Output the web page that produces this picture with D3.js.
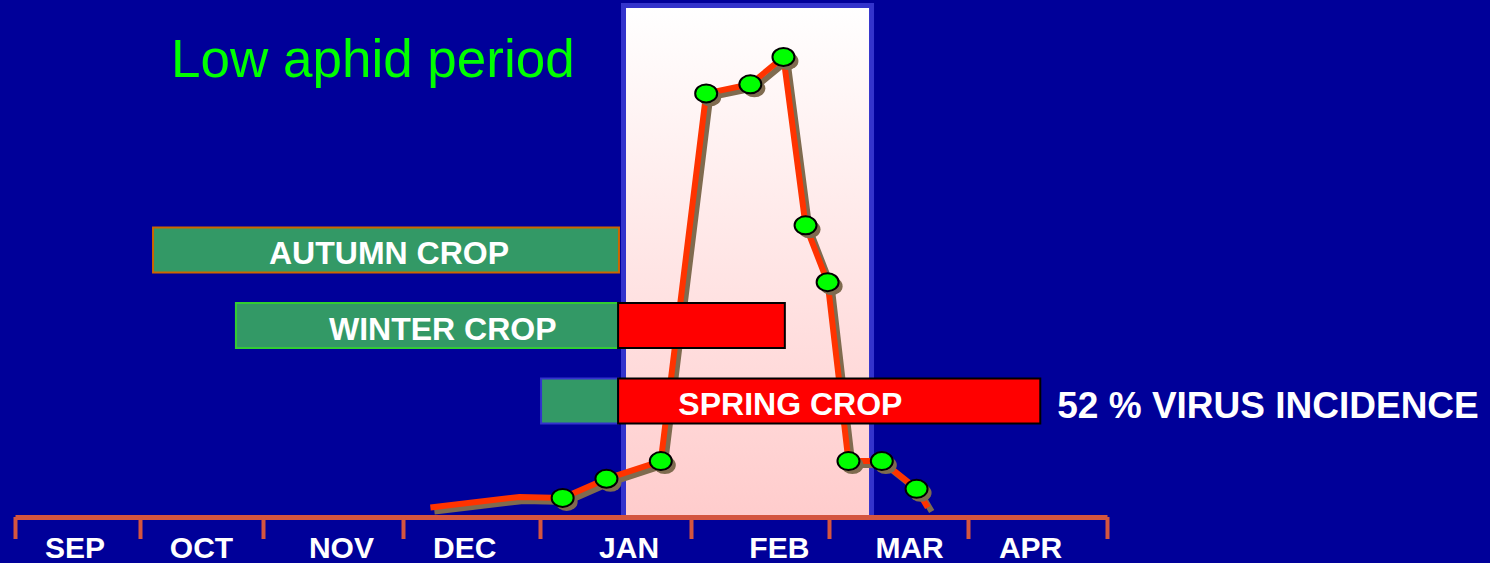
<!DOCTYPE html>
<html>
<head>
<meta charset="utf-8">
<script src="https://cdn.jsdelivr.net/npm/d3@7"></script>
<style>
  body { margin: 0; background: #000099; }
  svg { display: block; }
  text { font-family: "Liberation Sans", Arial, sans-serif; }
</style>
</head>
<body>
<div id="chart"></div>
<script>
// months on the axis (boundaries at 0..8, 0 = start of Sep)
var months = ['SEP', 'OCT', 'NOV', 'DEC', 'JAN', 'FEB', 'MAR', 'APR']
// where each month label sits, in month units
var monthLabelPos = [0.48, 1.5, 2.56, 3.45, 4.59, 5.64, 6.58, 7.45]

// aphid catches (relative units), time in month units
var aphidTime = [3.20, 3.85, 4.15, 4.44, 4.80, 5.11, 5.43, 5.67, 5.83, 5.99, 6.14, 6.38, 6.63, 6.71]
var aphidCount = [1, 3.3, 3.1, 7.3, 11.2, 92, 94, 100, 63, 50.5, 11.2, 11.2, 5.1, 1]
var sampled = [false, false, true, true, true, true, true, true, true, true, true, true, true, false]

// the period shown as a light panel, in month units
var panelPeriod = [4.553, 6.306]

// crops: green = sown before the panel, red = exposed during it
var crops = ['AUTUMN CROP', 'WINTER CROP', 'SPRING CROP']
var greenStart = [1.106, 1.78, 4.007]
var greenEnd = [4.523, 4.517, 4.517]
var redEnd = [null, 5.68, 7.52]
var cropLabelPos = [2.9, 3.29, 5.72]

var title = 'Low aphid period'
var note = '52 % VIRUS INCIDENCE'

var W = 1490, H = 563

var svg = d3.select('#chart').append('svg')
  .attr('width', W)
  .attr('height', H)

svg.append('rect').attr('width', W).attr('height', H).attr('fill', '#000099')

// month scale: uneven month widths, so a piecewise linear scale
var x = d3.scaleLinear()
  .domain(d3.range(9))
  .range([15, 140, 263, 403, 540, 691, 829, 968, 1107])

var y = d3.scaleLinear().domain([0, 100]).range([512, 57])

var row = d3.scalePoint().domain(crops).range([250, 401])
var barH = 45

// gradient panel
var defs = svg.append('defs')
var grad = defs.append('linearGradient')
  .attr('id', 'panelGrad')
  .attr('x1', 0).attr('y1', 0).attr('x2', 0).attr('y2', 1)
grad.append('stop').attr('offset', '0%').attr('stop-color', '#ffffff')
grad.append('stop').attr('offset', '100%').attr('stop-color', '#ffcccc')

svg.append('rect')
  .attr('x', x(panelPeriod[0]))
  .attr('y', 5.5)
  .attr('width', x(panelPeriod[1]) - x(panelPeriod[0]))
  .attr('height', 512)
  .attr('fill', 'url(#panelGrad)')
  .attr('stroke', '#3333cc')
  .attr('stroke-width', 5)

// title
svg.append('text')
  .attr('x', 171)
  .attr('y', 77)
  .attr('fill', '#00ff00')
  .style('font-size', '53px')
  .text(title)

// aphid line
var pts = aphidTime.map(function (t, i) { return { t: t, v: aphidCount[i], s: sampled[i] } })
var line = d3.line()
  .x(function (d) { return x(d.t) })
  .y(function (d) { return y(d.v) })

svg.append('path')
  .datum(pts)
  .attr('d', line)
  .attr('transform', 'translate(4,4)')
  .attr('fill', 'none')
  .attr('stroke', '#7f6b4f')
  .attr('stroke-width', 6)

svg.append('path')
  .datum(pts)
  .attr('d', line)
  .attr('fill', 'none')
  .attr('stroke', '#ff3300')
  .attr('stroke-width', 6)

var marks = pts.filter(function (d) { return d.s })

svg.selectAll('.markShadow').data(marks).enter()
  .append('ellipse')
  .attr('class', 'markShadow')
  .attr('cx', function (d) { return x(d.t) + 4 })
  .attr('cy', function (d) { return y(d.v) + 4 })
  .attr('rx', 11).attr('ry', 9)
  .attr('fill', '#7f6b4f')

svg.selectAll('.mark').data(marks).enter()
  .append('ellipse')
  .attr('class', 'mark')
  .attr('cx', function (d) { return x(d.t) })
  .attr('cy', function (d) { return y(d.v) })
  .attr('rx', 11).attr('ry', 9)
  .attr('fill', '#00ff00')
  .attr('stroke', '#000')
  .attr('stroke-width', 2)

// crop bars
var greenStroke = ['#cc6600', '#33cc33', '#3333cc']
crops.forEach(function (c, i) {
  var top = row(c) - barH / 2
  svg.append('rect')
    .attr('x', x(greenStart[i]))
    .attr('y', top)
    .attr('width', x(greenEnd[i]) - x(greenStart[i]))
    .attr('height', barH)
    .attr('fill', '#339966')
    .attr('stroke', greenStroke[i])
    .attr('stroke-width', 2)
  if (redEnd[i] != null) {
    svg.append('rect')
      .attr('x', x(greenEnd[i]))
      .attr('y', top)
      .attr('width', x(redEnd[i]) - x(greenEnd[i]))
      .attr('height', barH)
      .attr('fill', '#ff0000')
      .attr('stroke', '#000')
      .attr('stroke-width', 2)
  }
  svg.append('text')
    .attr('x', x(cropLabelPos[i]))
    .attr('y', row(c) + 14)
    .attr('text-anchor', 'middle')
    .attr('fill', '#fff')
    .style('font-size', '32px')
    .style('font-weight', 'bold')
    .text(c)
})

svg.append('text')
  .attr('x', x(redEnd[2]) + 17)
  .attr('y', row('SPRING CROP') + 17)
  .attr('fill', '#fff')
  .style('font-size', '37px')
  .style('font-weight', 'bold')
  .text(note)

// month axis
var axis = svg.append('g')
  .attr('transform', 'translate(0,517)')
  .call(d3.axisBottom(x).tickValues(d3.range(9)).tickSize(22).tickSizeOuter(0).tickFormat(''))
axis.select('.domain').attr('stroke', '#d4553f').attr('stroke-width', 5)
axis.selectAll('.tick line').attr('stroke', '#d4553f').attr('stroke-width', 4)
axis.selectAll('.tick text').remove()

svg.selectAll('.month').data(months).enter()
  .append('text')
  .attr('class', 'month')
  .attr('x', function (d, i) { return x(monthLabelPos[i]) })
  .attr('y', 558)
  .attr('text-anchor', 'middle')
  .attr('fill', '#fff')
  .style('font-size', '30px')
  .style('font-weight', 'bold')
  .text(function (d) { return d })
</script>
</body>
</html>
